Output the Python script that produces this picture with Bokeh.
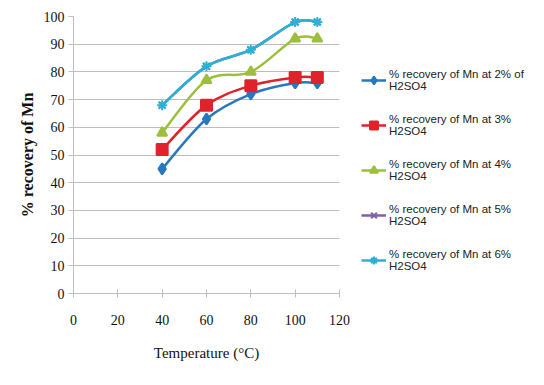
from bokeh.plotting import figure
from bokeh.models import Legend, LegendItem, ColumnDataSource, FixedTicker
from bokeh.embed import file_html
from bokeh.resources import INLINE

temps = [40, 60, 80, 100, 110]
mn_2 = [45, 63, 72, 76, 76]
mn_3 = [52, 68, 75, 78, 78]
mn_4 = [58, 77, 80, 92, 92]
mn_5 = [68, 82, 88, 98, 98]
mn_6 = [68, 82, 88, 98, 98]

labels = [
    "% recovery of Mn at 2% of\nH2SO4",
    "% recovery of Mn at 3%\nH2SO4",
    "% recovery of Mn at 4%\nH2SO4",
    "% recovery of Mn at 5%\nH2SO4",
    "% recovery of Mn at 6%\nH2SO4",
]
series = [mn_2, mn_3, mn_4, mn_5, mn_6]
colors = ["#2878C0", "#E0232B", "#9CBF3C", "#7E60AA", "#2BB0D6"]
markers = ["diamond", "square", "triangle", "x", "asterisk"]
msizes = [11, 11, 10, 9, 10]

p = figure(frame_width=266, frame_height=277, output_backend="svg",
           toolbar_location=None, x_range=(0, 120), y_range=(0, 100),
           min_border_left=73, min_border_top=16, min_border_bottom=10,
           min_border_right=10)
p.outline_line_color = None
p.xgrid.grid_line_color = None
p.ygrid.grid_line_color = "#BEBEBE"
p.ygrid.grid_line_width = 1

p.xaxis.ticker = FixedTicker(ticks=list(range(0, 121, 20)))
p.yaxis.ticker = FixedTicker(ticks=list(range(0, 101, 10)))
for ax in (p.xaxis, p.yaxis):
    ax.axis_line_color = "#BEBEBE"
    ax.major_tick_line_color = "#BEBEBE"
    ax.minor_tick_line_color = None
    ax.major_label_text_font = "Liberation Serif"
    ax.major_label_text_font_size = "14px"
    ax.major_label_text_color = "#111111"
    ax.axis_label_text_font = "Liberation Serif"
    ax.axis_label_text_font_style = "normal"
    ax.axis_label_text_color = "#111111"
p.xaxis.major_tick_in = 4
p.xaxis.major_tick_out = 4
p.yaxis.major_tick_in = 0
p.yaxis.major_tick_out = 5
p.xaxis.major_label_standoff = 17
p.yaxis.major_label_standoff = 4
p.xaxis.axis_label = "Temperature (°C)"
p.xaxis.axis_label_text_font_size = "15px"
p.xaxis.axis_label_standoff = 17
p.yaxis.axis_label = "% recovery of Mn"
p.yaxis.axis_label_text_font_size = "16px"
p.yaxis.axis_label_text_font_style = "bold"
p.yaxis.axis_label_standoff = 5


def smooth(xs, ys):
    n = len(xs)
    out = dict(x0=[], y0=[], x1=[], y1=[], cx0=[], cy0=[], cx1=[], cy1=[])
    for i in range(n - 1):
        xm1, ym1 = (xs[i - 1], ys[i - 1]) if i > 0 else (xs[i], ys[i])
        xp2, yp2 = (xs[i + 2], ys[i + 2]) if i + 2 < n else (xs[i + 1], ys[i + 1])
        out["x0"].append(xs[i]); out["y0"].append(ys[i])
        out["x1"].append(xs[i + 1]); out["y1"].append(ys[i + 1])
        out["cx0"].append(xs[i] + (xs[i + 1] - xm1) / 6)
        out["cy0"].append(ys[i] + (ys[i + 1] - ym1) / 6)
        out["cx1"].append(xs[i + 1] - (xp2 - xs[i]) / 6)
        out["cy1"].append(ys[i + 1] - (yp2 - ys[i]) / 6)
    return ColumnDataSource(out)


nan = float("nan")
items = []
for lab, ys, c, m, ms in zip(labels, series, colors, markers, msizes):
    p.bezier(x0="x0", y0="y0", x1="x1", y1="y1", cx0="cx0", cy0="cy0",
             cx1="cx1", cy1="cy1", source=smooth(temps, ys),
             line_color=c, line_width=2.5)
    sc = p.scatter(temps, ys, marker=m, size=ms, color=c, line_width=2)
    dummy = p.line([nan], [nan], line_color=c, line_width=2.5)
    items.append(LegendItem(label=lab, renderers=[dummy, sc]))

legend = Legend(items=items, location=(22, 15))
legend.border_line_color = None
legend.background_fill_alpha = 0
legend.label_text_font = "Liberation Sans"
legend.label_text_font_size = "11.5px"
legend.label_text_color = "#222222"
legend.label_text_line_height = 1.5
legend.glyph_width = 25
legend.label_standoff = 3
legend.spacing = 9
legend.margin = 0
legend.padding = 4
legend.label_height = 36
p.add_layout(legend, "right")

open("out.html", "w").write(file_html(p, INLINE))
